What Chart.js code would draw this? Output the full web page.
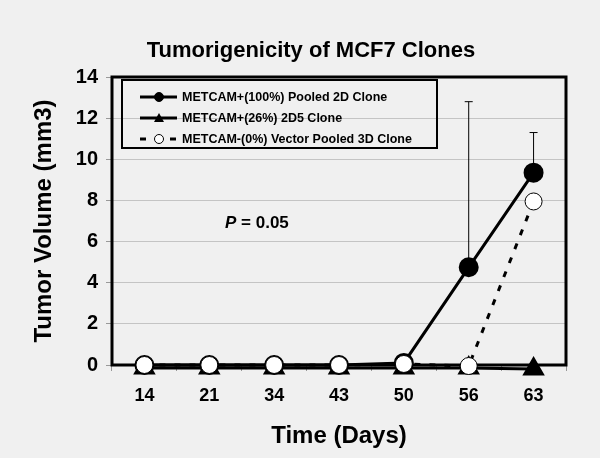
<!DOCTYPE html>
<html lang="en">
<head>
  <meta charset="UTF-8">
  <title>Tumorigenicity of MCF7 Clones</title>
  <style>
    html, body { margin: 0; padding: 0; background: #f0f0f0; }
    .chart-box { width: 600px; height: 458px; }
  </style>
  <script src="https://cdn.jsdelivr.net/npm/chart.js"></script>
</head>
<body>
  <div class="chart-box"><canvas id="tumorChart" width="600" height="458"></canvas></div>

  <script>
    // data
    const days = ['14', '21', '34', '43', '50', '56', '63'];
    const yTicks = [0, 2, 4, 6, 8, 10, 12, 14];

    const pooled2D = [0, 0, 0, 0, 0.1, 4.75, 9.35];
    const pooled2DErrUp = [null, null, null, null, null, 12.8, 11.3];
    const clone2D5 = [-0.15, -0.15, -0.15, -0.15, -0.15, -0.15, -0.2];
    const vector3D = [0, 0, 0, 0, 0.05, -0.05, 7.95];

    const seriesNames = [
      'METCAM+(100%) Pooled 2D Clone',
      'METCAM+(26%) 2D5 Clone',
      'METCAM-(0%) Vector Pooled 3D Clone'
    ];

    const FONT = 'Arial, "Liberation Sans", sans-serif';

    // one-sided error bars on the first series
    const errorBars = {
      id: 'errorBars',
      beforeDatasetsDraw(chart) {
        const { ctx, scales: { x, y } } = chart;
        ctx.save();
        ctx.strokeStyle = '#000';
        ctx.lineWidth = 1;
        pooled2DErrUp.forEach((hi, i) => {
          if (hi == null) return;
          const px = x.getPixelForValue(i);
          const y0 = y.getPixelForValue(pooled2D[i]);
          const y1 = y.getPixelForValue(hi);
          ctx.beginPath();
          ctx.moveTo(px, y0);
          ctx.lineTo(px, y1);
          ctx.moveTo(px - 4, y1);
          ctx.lineTo(px + 4, y1);
          ctx.stroke();
        });
        ctx.restore();
      }
    };

    // thick frame round the plot, legend box and P value
    const frameAndNotes = {
      id: 'frameAndNotes',
      beforeDatasetsDraw(chart) {
        const { ctx, chartArea: a } = chart;
        ctx.save();
        ctx.strokeStyle = '#000';
        ctx.lineWidth = 3;
        ctx.strokeRect(a.left, a.top, a.right - a.left, a.bottom - a.top);
        ctx.restore();
      },
      afterDraw(chart) {
        const { ctx, chartArea: a } = chart;
        ctx.save();
        ctx.strokeStyle = '#000';

        // legend
        const lx = a.left + 10, ly = a.top + 3, lw = 315, lh = 68;
        ctx.lineWidth = 2;
        ctx.strokeRect(lx, ly, lw, lh);
        ctx.font = 'bold 12.5px ' + FONT;
        ctx.textBaseline = 'middle';
        ctx.fillStyle = '#000';
        chart.data.datasets.forEach((ds, i) => {
          const ry = ly + 17 + i * 21;
          ctx.save();
          ctx.lineWidth = 3;
          ctx.setLineDash(ds.borderDash || []);
          ctx.beginPath();
          ctx.moveTo(lx + 18, ry);
          ctx.lineTo(lx + 55, ry);
          ctx.stroke();
          ctx.restore();
          const mx = lx + 37;
          ctx.lineWidth = 1;
          if (ds.pointStyle === 'triangle') {
            ctx.beginPath();
            ctx.moveTo(mx, ry - 5);
            ctx.lineTo(mx + 5, ry + 4);
            ctx.lineTo(mx - 5, ry + 4);
            ctx.closePath();
            ctx.fill();
          } else {
            ctx.beginPath();
            ctx.arc(mx, ry, 4.5, 0, Math.PI * 2);
            ctx.fillStyle = ds.pointBackgroundColor;
            ctx.fill();
            ctx.stroke();
            ctx.fillStyle = '#000';
          }
          ctx.fillText(seriesNames[i], lx + 60, ry + 1);
        });

        // P value
        ctx.textBaseline = 'alphabetic';
        ctx.font = 'italic bold 17px ' + FONT;
        const px = a.left + 113, py = a.top + 151;
        ctx.fillText('P', px, py);
        const w = ctx.measureText('P').width;
        ctx.font = 'bold 17px ' + FONT;
        ctx.fillText(' = 0.05', px + w, py);
        ctx.restore();
      }
    };

    new Chart(document.getElementById('tumorChart'), {
      type: 'line',
      data: {
        labels: days,
        datasets: [
          {
            label: seriesNames[0],
            data: pooled2D,
            borderColor: '#000',
            borderWidth: 3,
            pointStyle: 'circle',
            pointRadius: 8.5,
            pointBackgroundColor: '#000',
            pointBorderColor: '#000',
            clip: false,
            order: 1
          },
          {
            label: seriesNames[1],
            data: clone2D5,
            borderColor: '#000',
            borderWidth: 3,
            pointStyle: 'triangle',
            pointRadius: 10,
            pointBackgroundColor: '#000',
            pointBorderColor: '#000',
            clip: false,
            order: 2
          },
          {
            label: seriesNames[2],
            data: vector3D,
            borderColor: '#000',
            borderWidth: 3,
            borderDash: [6, 9],
            pointStyle: 'circle',
            pointRadius: 8.5,
            pointBackgroundColor: '#fff',
            pointBorderColor: '#000',
            pointBorderWidth: 1,
            clip: false,
            order: 0
          }
        ]
      },
      options: {
        responsive: false,
        animation: false,
        layout: { padding: { left: 22, right: 0, top: 0, bottom: 0 } },
        plugins: {
          legend: { display: false },
          tooltip: { enabled: false },
          title: {
            display: true,
            text: 'Tumorigenicity of MCF7 Clones',
            color: '#000',
            font: { family: FONT, size: 22, weight: 'bold', lineHeight: 1.2 },
            padding: { top: 38, bottom: 12.6 }
          }
        },
        scales: {
          x: {
            offset: true,
            grid: { drawOnChartArea: false, offset: true, tickLength: 6, color: '#999' },
            border: { display: false },
            ticks: { color: '#000', padding: 14, font: { family: FONT, size: 18, weight: 'bold' } },
            title: {
              display: true,
              text: 'Time (Days)',
              color: '#000',
              font: { family: FONT, size: 24, weight: 'bold', lineHeight: 1.2 },
              padding: { top: 0, bottom: 7 }
            },
            afterFit(s) { s.height = 93; }
          },
          y: {
            min: 0,
            max: 14,
            afterBuildTicks(s) { s.ticks = yTicks.map(v => ({ value: v })); },
            grid: {
              color: ctx => (ctx.tick && (ctx.tick.value === 0 || ctx.tick.value === 14)) ? 'rgba(0,0,0,0)' : '#c4c4c4',
              tickColor: '#999',
              tickLength: 6
            },
            border: { display: false },
            ticks: { color: '#000', padding: 8, font: { family: FONT, size: 20, weight: 'bold' } },
            title: {
              display: true,
              text: 'Tumor Volume (mm3)',
              color: '#000',
              font: { family: FONT, size: 24, weight: 'bold', lineHeight: 1.2 },
              padding: { top: 8, bottom: 0 }
            },
            afterFit(s) { s.width = 90; }
          },
          // empty right-hand strip so the plot ends where the original does
          yRight: {
            position: 'right',
            display: true,
            grid: { display: false, drawTicks: false },
            border: { display: false },
            ticks: { display: false },
            afterFit(s) { s.width = 34; }
          }
        }
      },
      plugins: [errorBars, frameAndNotes]
    });
  </script>
</body>
</html>
